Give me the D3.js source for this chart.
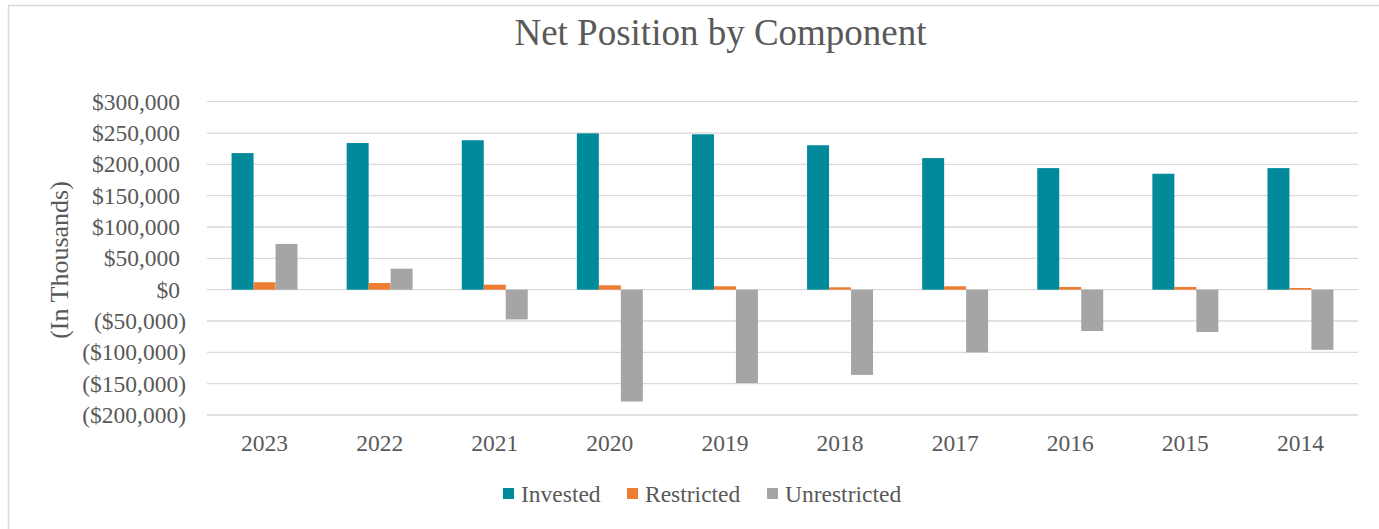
<!DOCTYPE html>
<html>
<head>
<meta charset="utf-8">
<script src="https://cdn.jsdelivr.net/npm/d3@7"></script>
<style>
  body { margin: 0; background: #fff; }
  svg text { font-family: "Liberation Serif", "Times New Roman", serif; fill: #595959; }
</style>
</head>
<body>
<svg id="chart" width="1379" height="529"></svg>
<script>
// values in dollars (chart says "In Thousands")
const years = ["2023", "2022", "2021", "2020", "2019", "2018", "2017", "2016", "2015", "2014"];
const invested = [218000, 234000, 238500, 249500, 248000, 230500, 210000, 194000, 185000, 194000];
const restricted = [11800, 10700, 8000, 7000, 5400, 3800, 5400, 4300, 4300, 2700];
const unrestricted = [73000, 33500, -47500, -178500, -149000, -136000, -100000, -66000, -67500, -96000];
const seriesNames = ["Invested", "Restricted", "Unrestricted"];
const colors = ["#008A9A", "#ED7D31", "#A5A5A5"];
const yTicks = [-200000, -150000, -100000, -50000, 0, 50000, 100000, 150000, 200000, 250000, 300000];

const svg = d3.select("#chart");
const W = 1379, H = 529;
const serif = "'Liberation Serif', 'Times New Roman', serif";

// outer chart border (right/bottom edges fall outside the picture)
svg.append("rect")
  .attr("x", 8.5).attr("y", 5.5)
  .attr("width", W).attr("height", H)
  .attr("fill", "#fff")
  .attr("stroke", "#d9d9d9")
  .attr("stroke-width", 1.5);

const margin = { top: 101.7, right: 21, left: 207 };
const width = W - margin.left - margin.right;
const plotBottom = 415;

const g = svg.append("g");

const y = d3.scaleLinear().domain([-200000, 300000]).range([plotBottom, margin.top]);
const x = d3.scaleBand().domain(years).range([margin.left, margin.left + width]);
const groupW = x.bandwidth() * 0.573;
const xs = d3.scaleBand().domain(seriesNames).range([0, groupW]);

const fmt = d => {
  const s = "$" + d3.format(",")(Math.abs(d));
  return d < 0 ? "(" + s + ")" : s;
};

// gridlines
g.append("g")
  .selectAll("line")
  .data(yTicks)
  .join("line")
  .attr("x1", margin.left).attr("x2", margin.left + width)
  .attr("y1", d => y(d)).attr("y2", d => y(d))
  .attr("stroke", "#d9d9d9")
  .attr("stroke-width", 1.3);

// y axis labels (positives padded like Excel's _) format)
const yAxis = g.append("g")
  .attr("transform", `translate(186, 0)`)
  .call(d3.axisLeft(y).tickValues(yTicks).tickFormat(fmt).tickSize(0).tickPadding(0));
yAxis.select(".domain").remove();
yAxis.selectAll("text")
  .style("font-family", serif)
  .style("font-size", "23.5px")
  .attr("fill", "#595959")
  .attr("dx", d => d >= 0 ? -6 : 0);

// x axis labels
const xAxis = g.append("g")
  .attr("transform", `translate(0, ${plotBottom})`)
  .call(d3.axisBottom(x).tickSize(0).tickPadding(0));
xAxis.select(".domain").remove();
xAxis.selectAll("text")
  .style("font-family", serif)
  .style("font-size", "23.5px")
  .attr("fill", "#595959")
  .attr("y", 36).attr("dy", 0);

// bars
const seriesData = [invested, restricted, unrestricted];
seriesData.forEach((vals, si) => {
  g.append("g")
    .selectAll("rect")
    .data(vals.map((v, i) => ({ year: years[i], v })))
    .join("rect")
    .attr("x", d => x(d.year) + (x.bandwidth() - groupW) / 2 + xs(seriesNames[si]))
    .attr("y", d => y(Math.max(0, d.v)))
    .attr("width", xs.bandwidth())
    .attr("height", d => Math.abs(y(d.v) - y(0)))
    .attr("fill", colors[si]);
});

// title
svg.append("text")
  .attr("x", 720.5).attr("y", 45)
  .attr("text-anchor", "middle")
  .style("font-family", serif)
  .style("font-size", "37px")
  .text("Net Position by Component");

// y axis title
svg.append("text")
  .attr("transform", `translate(59, 260) rotate(-90)`)
  .attr("text-anchor", "middle")
  .attr("dy", "0.33em")
  .style("font-family", serif)
  .style("font-size", "26px")
  .text("(In Thousands)");

// legend
const legendX = [503, 627, 767];
const legend = svg.append("g");
seriesNames.forEach((name, i) => {
  legend.append("rect")
    .attr("x", legendX[i]).attr("y", 488)
    .attr("width", 11).attr("height", 11)
    .attr("fill", colors[i]);
  legend.append("text")
    .attr("x", legendX[i] + 18).attr("y", 501.5)
    .style("font-family", serif)
    .style("font-size", "23.5px")
    .text(name);
});
</script>
</body>
</html>
